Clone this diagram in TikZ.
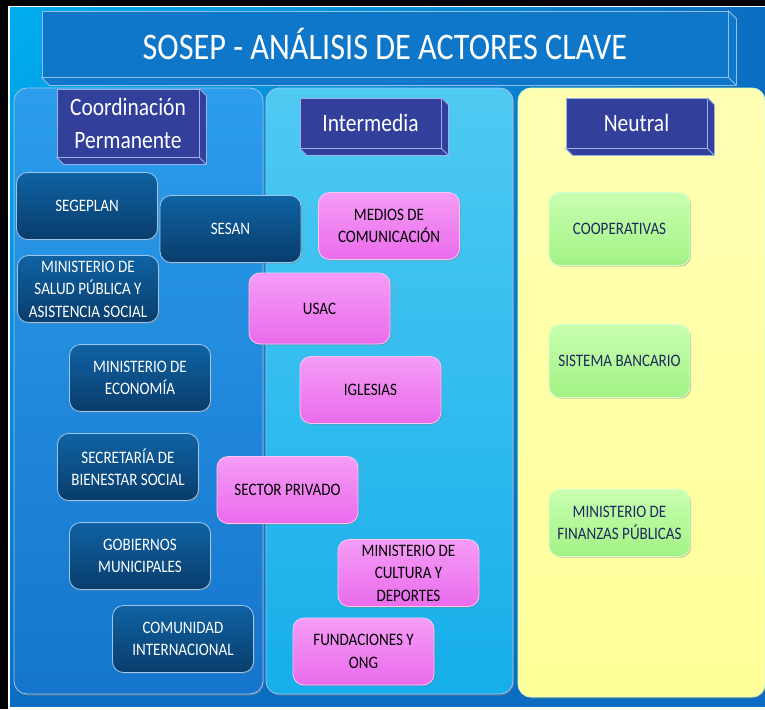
\documentclass[tikz,border=0pt]{standalone}
\usepackage{fontspec}
\setmainfont[FakeStretch=0.86]{Carlito}
\usetikzlibrary{positioning, shadows, shadings}
\definecolor{bgcyan}{HTML}{00AEEF}
\definecolor{bgblue}{HTML}{0B6DC1}
\definecolor{titlefill}{HTML}{0F77C9}
\definecolor{titleline}{HTML}{8FC0EA}
\definecolor{headfill}{HTML}{32409C}
\definecolor{headline}{HTML}{9AB3E6}
\definecolor{govtop}{HTML}{0F62A3}
\definecolor{govbot}{HTML}{093D6C}
\definecolor{govline}{HTML}{9CC6EA}
\definecolor{midtop}{HTML}{F59CF6}
\definecolor{midbot}{HTML}{EA6BEC}
\definecolor{midline}{HTML}{F8C8F8}
\definecolor{neutop}{HTML}{C8FFB0}
\definecolor{neubot}{HTML}{A2F285}
\definecolor{neuline}{HTML}{D8FFD0}
\definecolor{neutext}{HTML}{1C2A5C}
\definecolor{lefttop}{HTML}{2C9DEC}
\definecolor{leftbot}{HTML}{1575CD}
\definecolor{centtop}{HTML}{4FCAF2}
\definecolor{centbot}{HTML}{16AEEA}
\definecolor{righttop}{HTML}{FFFFB4}
\definecolor{rightbot}{HTML}{FFFF99}
\tikzset{
  actor/.style={rectangle, rounded corners=11pt, minimum width=141pt, minimum height=67pt,
    inner sep=2pt, align=center, font=\fontsize{17.5}{22.5}\selectfont, line width=0.8pt,
    drop shadow={shadow xshift=1.2pt, shadow yshift=-1.2pt, opacity=0.45}},
  gov/.style={actor, top color=govtop, bottom color=govbot, draw=govline, text=white},
  mid/.style={actor, top color=midtop, bottom color=midbot, draw=midline, text=black},
  neu/.style={actor, top color=neutop, bottom color=neubot, draw=neuline, text=neutext, minimum height=73pt},
  column/.style={rectangle, rounded corners=13pt, minimum height=606pt, line width=0.8pt,
    drop shadow={shadow xshift=1pt, shadow yshift=-1.5pt, opacity=0.5}},
  header/.style={rectangle, fill=headfill, draw=headline, line width=0.8pt, text=white,
    font=\fontsize{25}{33}\selectfont, align=center, minimum width=141pt, minimum height=50pt},
  bevel/.style={fill=headfill, draw=headline, line width=0.8pt, line join=round}
}

\begin{document}
\begin{tikzpicture}[x=1pt, y=-1pt]
\useasboundingbox (0,0) rectangle (765,709);
% frame and background
\fill[black] (0,0) rectangle (765,709);
\fill[white] (8,6) rectangle (765,709);
\shade[upper left=bgcyan, lower left=bgblue, upper right=bgblue, lower right=bgblue] (10,8) rectangle (765,706);

% title
\node[rectangle, fill=titlefill, draw=titleline, line width=0.8pt, text=white,
  minimum width=686pt, minimum height=66pt, font=\fontsize{37.5}{40}\selectfont] (title) at (385,44)
  {SOSEP - ANÁLISIS DE ACTORES CLAVE};
\draw[bevel, fill=titlefill, draw=titleline] (title.north east) -- ++(8,8) |- ([shift={(8,8)}]title.south west)
  -- (title.south west) -- (title.south east) -- cycle (title.south east) -- ++(8,8);

% columns
\node[column, minimum width=249pt, top color=lefttop, bottom color=leftbot, draw=govline] (colcoord) at (138.5,391) {};
\node[column, minimum width=247pt, top color=centtop, bottom color=centbot, draw=govline] (colinter) at (389.5,391) {};
\node[column, minimum width=247pt, minimum height=609pt, top color=righttop, bottom color=rightbot, draw=neuline] (colneutral) at (641.5,392.5) {};

% headers
\node[header, minimum width=142pt, minimum height=68pt] (coord) at (128,123) {Coordinación\\Permanente};
\node[header] (inter) at (370.5,123) {Intermedia};
\node[header] (neutral) at (636.5,123) {Neutral};
\foreach \n in {coord, inter, neutral}
  \draw[bevel] (\n.north east) -- ++(7,7) |- ([shift={(7,7)}]\n.south west)
    -- (\n.south west) -- (\n.south east) -- cycle (\n.south east) -- ++(7,7);

% coordinacion permanente
\node[gov] (segeplan) at (87,206) {SEGEPLAN};
\node[gov] (salud) at (88,289) {MINISTERIO DE\\SALUD PÚBLICA Y\\ASISTENCIA SOCIAL};
\node[gov] (economia) at (140,378) {MINISTERIO DE\\ECONOMÍA};
\node[gov] (bienestar) at (128,467) {SECRETARÍA DE\\BIENESTAR SOCIAL};
\node[gov] (gobiernos) at (140,556) {GOBIERNOS\\MUNICIPALES};
\node[gov] (comunidad) at (183,639) {COMUNIDAD\\INTERNACIONAL};
\node[gov] (sesan) at (230.5,229) {SESAN};

% intermedia
\node[mid] (medios) at (389,226) {MEDIOS DE\\COMUNICACIÓN};
\node[mid, minimum height=71pt] (usac) at (319.5,308.5) {USAC};
\node[mid] (iglesias) at (370.5,390) {IGLESIAS};
\node[mid] (privado) at (287.5,490) {SECTOR PRIVADO};
\node[mid] (cultura) at (408.5,573) {MINISTERIO DE\\CULTURA Y\\DEPORTES};
\node[mid] (fundaciones) at (363.5,651.5) {FUNDACIONES Y\\ONG};

% neutral
\node[neu] (cooperativas) at (619.5,229) {COOPERATIVAS};
\node[neu] (bancario) at (619.5,361) {SISTEMA BANCARIO};
\node[neu, minimum height=67pt] (finanzas) at (619.5,523) {MINISTERIO DE\\FINANZAS PÚBLICAS};
\end{tikzpicture}
\end{document}
